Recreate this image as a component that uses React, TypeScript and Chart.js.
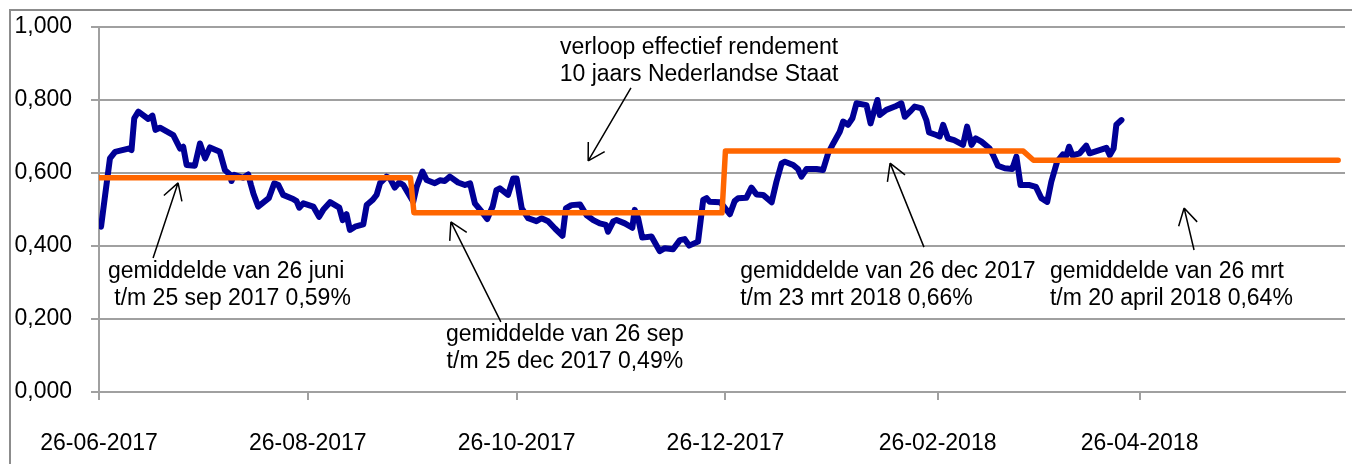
import React, { useEffect, useRef } from "react";
import { Chart, registerables } from "chart.js";

Chart.register(...registerables);

// ---- axis ticks ----
const xTickDays = [0, 61, 122, 183, 245, 304]; // days since 26-06-2017
const xTickLabels = ["26-06-2017", "26-08-2017", "26-10-2017", "26-12-2017", "26-02-2018", "26-04-2018"];
const yTickValues = [0, 0.2, 0.4, 0.6, 0.8, 1.0];
const yTickLabels = ["0,000", "0,200", "0,400", "0,600", "0,800", "1,000"];

// ---- series: effectief rendement 10 jaars Nederlandse Staat (days since 26-06-2017) ----
const yieldDays = [
  0.6, 1.8, 3.2, 4.7, 8.6, 9.5, 10.3, 11.5, 14.4, 15.6, 16.5, 17.8, 21.7, 23.7, 24.6, 25.6, 28.0, 29.5, 31.0, 32.4,
  35.3, 36.8, 38.3, 38.7, 39.5, 42.1, 43.6, 44.4, 45.1, 46.5, 49.6, 51.2, 52.4, 53.8, 56.7, 57.7, 58.5, 59.7, 62.6, 64.3,
  65.5, 67.5, 70.2, 71.2, 72.3, 73.3, 74.8, 77.2, 78.2, 79.9, 81.1, 82.1, 84.0, 85.0, 86.4, 87.7, 88.9, 91.8, 92.8, 94.5,
  95.7, 98.1, 99.6, 101.0, 102.5, 104.9, 106.9, 108.4, 109.8, 111.8, 113.4, 115.0, 116.1, 117.1, 119.5, 121.0, 122.0, 123.5, 125.4, 127.8,
  129.3, 131.2, 133.2, 135.4, 136.4, 138.0, 140.5, 142.4, 144.4, 146.3, 148.1, 148.7, 150.2, 151.2, 153.6, 155.8, 156.5, 157.5, 158.7, 161.4,
  163.8, 165.3, 167.7, 169.7, 171.1, 172.4, 175.0, 176.5, 177.5, 178.4, 181.4, 182.3, 184.3, 185.7, 186.7, 189.1, 190.6, 192.1, 194.0, 196.5,
  197.9, 199.4, 200.4, 202.8, 204.2, 205.2, 206.7, 209.6, 211.5, 213.0, 214.5, 216.4, 217.4, 218.8, 220.1, 221.3, 224.2, 225.4, 226.1, 227.4,
  228.1, 230.0, 232.5, 234.4, 235.4, 236.9, 238.3, 240.3, 241.7, 242.5, 244.6, 245.6, 246.6, 248.0, 249.8, 252.4, 253.6, 254.9, 256.1, 257.8,
  260.2, 261.2, 262.6, 264.6, 266.8, 268.0, 269.2, 271.9, 273.7, 275.3, 277.0, 278.2, 279.9, 281.6, 282.6, 283.4, 284.4, 286.5, 288.4, 289.4,
  291.4, 294.3, 295.3, 296.4, 297.2, 298.7,
];
const yieldValues = [
  0.453, 0.540, 0.640, 0.658, 0.667, 0.663, 0.750, 0.768, 0.748, 0.757, 0.718, 0.724, 0.704, 0.667, 0.672, 0.622, 0.620, 0.681, 0.640, 0.670,
  0.658, 0.608, 0.595, 0.578, 0.595, 0.587, 0.596, 0.567, 0.544, 0.508, 0.531, 0.572, 0.567, 0.540, 0.529, 0.523, 0.505, 0.517, 0.508, 0.480,
  0.499, 0.520, 0.505, 0.471, 0.487, 0.444, 0.453, 0.459, 0.512, 0.526, 0.540, 0.572, 0.590, 0.585, 0.560, 0.574, 0.567, 0.521, 0.562, 0.604,
  0.581, 0.572, 0.580, 0.578, 0.590, 0.574, 0.567, 0.572, 0.517, 0.494, 0.474, 0.508, 0.553, 0.558, 0.540, 0.585, 0.585, 0.503, 0.476, 0.468,
  0.476, 0.468, 0.448, 0.428, 0.503, 0.512, 0.514, 0.485, 0.471, 0.462, 0.458, 0.439, 0.467, 0.471, 0.462, 0.450, 0.499, 0.476, 0.423, 0.426,
  0.386, 0.394, 0.391, 0.416, 0.419, 0.401, 0.412, 0.526, 0.531, 0.521, 0.520, 0.511, 0.487, 0.523, 0.531, 0.532, 0.560, 0.541, 0.540, 0.520,
  0.576, 0.626, 0.631, 0.622, 0.611, 0.590, 0.611, 0.611, 0.608, 0.654, 0.681, 0.713, 0.741, 0.732, 0.750, 0.791, 0.786, 0.736, 0.759, 0.800,
  0.759, 0.773, 0.782, 0.791, 0.754, 0.768, 0.782, 0.777, 0.745, 0.711, 0.704, 0.700, 0.732, 0.695, 0.690, 0.677, 0.727, 0.677, 0.695, 0.686,
  0.667, 0.649, 0.620, 0.613, 0.611, 0.645, 0.567, 0.567, 0.562, 0.531, 0.521, 0.576, 0.631, 0.651, 0.648, 0.672, 0.648, 0.654, 0.675, 0.654,
  0.660, 0.669, 0.649, 0.667, 0.732, 0.745,
];

// ---- series: period averages (step line) ----
const averageDays = [0, 91, 92, 182, 183, 270, 273, 362];
const averageValues = [0.587, 0.587, 0.491, 0.491, 0.660, 0.660, 0.635, 0.635];

// ---- annotations (anchored in data units) ----
const noteTexts = [
  { lines: ["verloop effectief rendement", "10 jaars Nederlandse Staat"], day: 175.3, value: 0.9425, align: "center" },
  { lines: ["gemiddelde van 26 juni", " t/m 25 sep 2017 0,59%"], day: 2.6, value: 0.329, align: "left" },
  { lines: ["gemiddelde van 26 sep", "t/m 25 dec 2017 0,49%"], day: 136.1, value: 0.156, align: "center" },
  { lines: ["gemiddelde van 26 dec 2017", "t/m 23 mrt 2018 0,66%"], day: 187.3, value: 0.329, align: "left" },
  { lines: ["gemiddelde van 26 mrt", "t/m 20 april 2018 0,64%"], day: 277.8, value: 0.329, align: "left" },
];
const noteArrows = [
  { fromDay: 155.4, fromValue: 0.833, toDay: 142.9, toValue: 0.633 },
  { fromDay: 15.8, fromValue: 0.367, toDay: 23.1, toValue: 0.573 },
  { fromDay: 117.4, fromValue: 0.192, toDay: 102.8, toValue: 0.466 },
  { fromDay: 241.0, fromValue: 0.397, toDay: 231.1, toValue: 0.627 },
  { fromDay: 319.9, fromValue: 0.389, toDay: 317.0, toValue: 0.504 },
];

const FONT = "'Liberation Sans', Arial, sans-serif";
const GRID = "#a0a0a0";

const notesPlugin = {
  id: "notes",
  beforeDraw(chart: any) {
    const ctx = chart.ctx;
    ctx.save();
    ctx.fillStyle = "#ffffff";
    ctx.fillRect(0, 0, chart.width, chart.height);
    ctx.strokeStyle = "#8c8c8c";
    ctx.lineWidth = 2;
    ctx.strokeRect(10, 10, chart.width + 20, chart.height + 20);
    ctx.restore();
  },
  afterDatasetsDraw(chart: any) {
    const { ctx } = chart;
    const xs = chart.scales.x;
    const ys = chart.scales.y;
    ctx.save();
    ctx.fillStyle = "#000000";
    ctx.font = `23px ${FONT}`;
    ctx.textBaseline = "middle";
    for (const t of noteTexts) {
      ctx.textAlign = t.align;
      const px = xs.getPixelForValue(t.day);
      const py = ys.getPixelForValue(t.value);
      t.lines.forEach((line, i) => ctx.fillText(line, px, py + i * 27));
    }
    ctx.strokeStyle = "#000000";
    ctx.lineWidth = 1.5;
    for (const a of noteArrows) {
      const x1 = xs.getPixelForValue(a.fromDay);
      const y1 = ys.getPixelForValue(a.fromValue);
      const x2 = xs.getPixelForValue(a.toDay);
      const y2 = ys.getPixelForValue(a.toValue);
      ctx.beginPath();
      ctx.moveTo(x1, y1);
      ctx.lineTo(x2, y2);
      const ang = Math.atan2(y1 - y2, x1 - x2);
      for (const s of [-1, 1]) {
        const aa = ang + (s * Math.PI) / 6;
        ctx.moveTo(x2, y2);
        ctx.lineTo(x2 + 19 * Math.cos(aa), y2 + 19 * Math.sin(aa));
      }
      ctx.stroke();
    }
    ctx.restore();
  },
};

export default function App() {
  const ref = useRef<HTMLCanvasElement | null>(null);

  useEffect(() => {
    if (!ref.current) return;
    const chart = new Chart(ref.current, {
      type: "line",
      data: {
        datasets: [
          {
            data: averageDays.map((d, i) => ({ x: d, y: averageValues[i] })),
            borderColor: "#ff6600",
            backgroundColor: "#ff6600",
            borderWidth: 5.5,
            pointRadius: 0,
            tension: 0,
            borderJoinStyle: "round",
            borderCapStyle: "round",
            order: 1,
          },
          {
            data: yieldDays.map((d, i) => ({ x: d, y: yieldValues[i] })),
            borderColor: "#000096",
            backgroundColor: "#000096",
            borderWidth: 6,
            pointRadius: 0,
            tension: 0,
            borderJoinStyle: "round",
            borderCapStyle: "round",
            order: 2,
          },
        ],
      },
      options: {
        animation: false,
        responsive: false,
        devicePixelRatio: 1,
        layout: { padding: { left: 0, top: 27, right: 7, bottom: 0 } },
        plugins: { legend: { display: false }, tooltip: { enabled: false } },
        scales: {
          x: {
            type: "linear",
            min: 0,
            max: 364,
            afterBuildTicks: (s: any) => {
              s.ticks = xTickDays.map((v) => ({ value: v }));
            },
            afterFit: (s: any) => {
              s.height = 72;
            },
            ticks: {
              autoSkip: false,
              maxRotation: 0,
              minRotation: 0,
              padding: 30,
              color: "#000000",
              font: { family: FONT, size: 23 },
              callback: (_v: any, i: number) => xTickLabels[i],
            },
            grid: { display: true, drawOnChartArea: false, drawTicks: true, tickLength: 8, color: GRID, lineWidth: 2 },
            border: { display: true, color: GRID, width: 2 },
          },
          y: {
            type: "linear",
            min: 0,
            max: 1,
            afterBuildTicks: (s: any) => {
              s.ticks = yTickValues.map((v) => ({ value: v }));
            },
            afterFit: (s: any) => {
              s.width = 99;
              s.paddingTop = 0;
              s.paddingBottom = 0;
            },
            ticks: {
              padding: 19,
              color: "#000000",
              font: { family: FONT, size: 23 },
              callback: (_v: any, i: number) => yTickLabels[i],
            },
            grid: { display: true, drawTicks: true, tickLength: 8, color: GRID, lineWidth: 2 },
            border: { display: true, color: GRID, width: 2 },
          },
        },
      },
      plugins: [notesPlugin],
    });
    return () => chart.destroy();
  }, []);

  return (
    <div style={{ position: "absolute", left: 0, top: 0, width: 1352, height: 464 }}>
      <canvas ref={ref} width={1352} height={464} style={{ display: "block", width: 1352, height: 464 }} />
    </div>
  );
}
